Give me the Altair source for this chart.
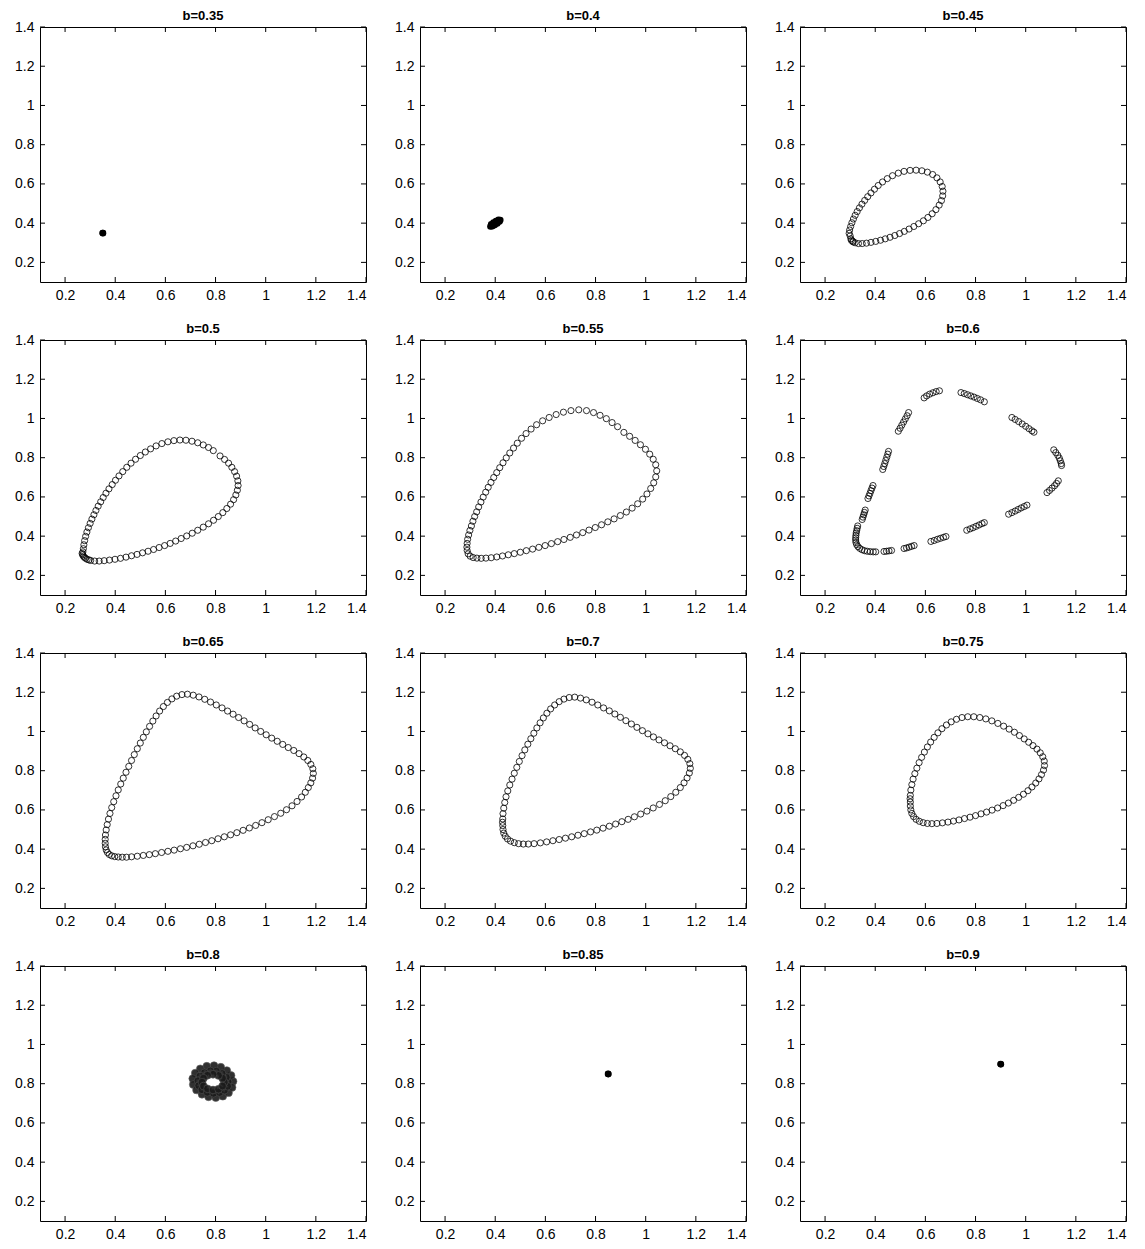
import altair as alt
import pandas as pd

FONT = "Liberation Sans"
TICKS = [0.2, 0.4, 0.6, 0.8, 1.0, 1.2, 1.4]
W, H = 326, 255

# ---- data (x, y) ----
B035_SOLID = [(0.350, 0.350), (0.351, 0.349)]

B040_SOLID = [(0.381, 0.383), (0.388, 0.384), (0.398, 0.390), (0.408, 0.398), (0.417, 0.408),
              (0.420, 0.416), (0.413, 0.417), (0.403, 0.411), (0.393, 0.403), (0.384, 0.394),
              (0.400, 0.400)]

B045_OPEN = [(0.300, 0.335), (0.303, 0.320), (0.310, 0.308), (0.320, 0.300), (0.333, 0.296),
             (0.348, 0.296), (0.365, 0.298), (0.383, 0.302), (0.402, 0.307), (0.421, 0.313),
             (0.440, 0.320), (0.459, 0.328), (0.478, 0.337), (0.497, 0.347), (0.516, 0.358),
             (0.535, 0.370), (0.554, 0.383), (0.573, 0.397), (0.592, 0.412), (0.610, 0.429),
             (0.627, 0.448), (0.642, 0.469), (0.655, 0.492), (0.664, 0.515), (0.669, 0.539),
             (0.670, 0.563), (0.667, 0.587), (0.659, 0.610), (0.646, 0.631), (0.629, 0.648),
             (0.608, 0.660), (0.586, 0.667), (0.563, 0.670), (0.539, 0.669), (0.515, 0.664),
             (0.492, 0.655), (0.469, 0.642), (0.448, 0.627), (0.429, 0.610), (0.412, 0.592),
             (0.397, 0.573), (0.383, 0.554), (0.370, 0.535), (0.358, 0.516), (0.347, 0.497),
             (0.337, 0.478), (0.328, 0.459), (0.320, 0.440), (0.313, 0.421), (0.307, 0.402),
             (0.302, 0.383), (0.298, 0.365), (0.296, 0.348), (0.305, 0.312), (0.312, 0.304)]

B050_OPEN = [(0.270, 0.305), (0.277, 0.292), (0.288, 0.282), (0.302, 0.276), (0.318, 0.273),
             (0.336, 0.273), (0.356, 0.275), (0.377, 0.278), (0.399, 0.282), (0.421, 0.287),
             (0.443, 0.293), (0.465, 0.300), (0.487, 0.307), (0.509, 0.315), (0.531, 0.323),
             (0.553, 0.332), (0.575, 0.342), (0.597, 0.352), (0.619, 0.363), (0.641, 0.375),
             (0.663, 0.388), (0.685, 0.401), (0.707, 0.415), (0.729, 0.430), (0.751, 0.446),
             (0.772, 0.463), (0.792, 0.481), (0.811, 0.500), (0.829, 0.520), (0.845, 0.541),
             (0.860, 0.563), (0.872, 0.586), (0.881, 0.610), (0.887, 0.634), (0.890, 0.658),
             (0.889, 0.682), (0.884, 0.706), (0.876, 0.729), (0.865, 0.751), (0.852, 0.772),
             (0.836, 0.791), (0.818, 0.809), (0.791, 0.836), (0.772, 0.852), (0.751, 0.865),
             (0.729, 0.876), (0.706, 0.884), (0.682, 0.889), (0.658, 0.890), (0.634, 0.887),
             (0.610, 0.881), (0.586, 0.872), (0.563, 0.860), (0.541, 0.845), (0.520, 0.829),
             (0.500, 0.811), (0.481, 0.792), (0.463, 0.772), (0.446, 0.751), (0.430, 0.729),
             (0.415, 0.707), (0.401, 0.685), (0.388, 0.663), (0.375, 0.641), (0.363, 0.619),
             (0.352, 0.597), (0.342, 0.575), (0.332, 0.553), (0.323, 0.531), (0.315, 0.509),
             (0.307, 0.487), (0.300, 0.465), (0.293, 0.443), (0.287, 0.421), (0.282, 0.399),
             (0.278, 0.377), (0.275, 0.356), (0.273, 0.336), (0.271, 0.320), (0.268, 0.312),
             (0.273, 0.298), (0.282, 0.287), (0.295, 0.279)]

B055_OPEN = [(0.292, 0.310), (0.300, 0.298), (0.312, 0.291), (0.327, 0.288), (0.344, 0.287),
             (0.363, 0.288), (0.384, 0.290), (0.406, 0.294), (0.429, 0.299), (0.452, 0.305),
             (0.476, 0.311), (0.500, 0.318), (0.524, 0.326), (0.549, 0.334), (0.574, 0.343),
             (0.599, 0.352), (0.624, 0.362), (0.649, 0.372), (0.674, 0.383), (0.699, 0.394),
             (0.724, 0.406), (0.749, 0.418), (0.774, 0.431), (0.799, 0.444), (0.824, 0.458),
             (0.849, 0.473), (0.874, 0.488), (0.899, 0.505), (0.923, 0.523), (0.946, 0.543),
             (0.968, 0.565), (0.988, 0.589), (1.005, 0.615), (1.020, 0.643), (1.032, 0.672),
             (1.040, 0.702), (1.044, 0.733), (1.040, 0.764), (1.030, 0.792), (1.016, 0.818),
             (0.999, 0.843), (0.979, 0.866), (0.958, 0.888), (0.936, 0.909), (0.913, 0.929),
             (0.888, 0.958), (0.866, 0.979), (0.843, 0.999), (0.818, 1.016), (0.792, 1.030),
             (0.764, 1.040), (0.733, 1.044), (0.702, 1.040), (0.672, 1.032), (0.643, 1.020),
             (0.615, 1.005), (0.589, 0.988), (0.565, 0.968), (0.543, 0.946), (0.523, 0.923),
             (0.505, 0.899), (0.488, 0.874), (0.473, 0.849), (0.458, 0.824), (0.444, 0.799),
             (0.431, 0.774), (0.418, 0.749), (0.406, 0.724), (0.394, 0.699), (0.383, 0.674),
             (0.372, 0.649), (0.362, 0.624), (0.352, 0.599), (0.343, 0.574), (0.334, 0.549),
             (0.326, 0.524), (0.318, 0.500), (0.311, 0.476), (0.305, 0.452), (0.299, 0.429),
             (0.294, 0.406), (0.290, 0.384), (0.288, 0.363), (0.287, 0.344), (0.288, 0.327)]

B060_OPEN = [
    # corner
    (0.330, 0.452), (0.328, 0.440), (0.326, 0.428), (0.324, 0.416), (0.323, 0.404), (0.322, 0.392),
    (0.322, 0.380), (0.323, 0.368), (0.326, 0.357), (0.331, 0.347), (0.338, 0.338), (0.347, 0.331),
    (0.357, 0.326), (0.368, 0.323), (0.380, 0.321), (0.392, 0.320), (0.402, 0.320),
    # lower dashes
    (0.435, 0.322), (0.445, 0.323), (0.455, 0.325), (0.465, 0.327),
    (0.515, 0.337), (0.525, 0.340), (0.535, 0.344), (0.545, 0.348), (0.555, 0.352),
    (0.622, 0.373), (0.635, 0.378), (0.648, 0.384), (0.660, 0.389), (0.672, 0.394), (0.682, 0.398),
    (0.765, 0.430), (0.778, 0.437), (0.790, 0.443), (0.802, 0.450), (0.814, 0.457), (0.826, 0.464),
    (0.835, 0.469),
    (0.932, 0.512), (0.945, 0.520), (0.958, 0.528), (0.970, 0.536), (0.982, 0.544), (0.994, 0.551),
    (1.005, 0.558),
    (1.085, 0.622), (1.095, 0.633), (1.105, 0.645), (1.115, 0.657), (1.123, 0.669), (1.130, 0.682),
    # right / upper dashes
    (1.112, 0.840), (1.120, 0.826), (1.128, 0.812), (1.134, 0.798), (1.138, 0.784), (1.142, 0.770),
    (1.143, 0.760),
    (0.945, 1.005), (0.958, 0.995), (0.972, 0.984), (0.986, 0.972), (1.000, 0.960), (1.013, 0.948),
    (1.025, 0.937), (1.033, 0.930),
    (0.742, 1.132), (0.755, 1.127), (0.768, 1.121), (0.781, 1.115), (0.794, 1.109), (0.807, 1.102),
    (0.820, 1.095), (0.835, 1.085),
    (0.595, 1.105), (0.605, 1.115), (0.617, 1.124), (0.630, 1.131), (0.643, 1.137), (0.656, 1.141),
    # left dashes
    (0.492, 0.935), (0.499, 0.950), (0.506, 0.966), (0.513, 0.982), (0.520, 0.998), (0.527, 1.014),
    (0.533, 1.030),
    (0.430, 0.740), (0.434, 0.755), (0.438, 0.770), (0.442, 0.786), (0.446, 0.802), (0.450, 0.818),
    (0.453, 0.832),
    (0.371, 0.592), (0.375, 0.605), (0.379, 0.618), (0.383, 0.632), (0.387, 0.645), (0.391, 0.658),
    (0.348, 0.485), (0.351, 0.497), (0.354, 0.509), (0.357, 0.521), (0.360, 0.533)]

B065_OPEN = [(0.360, 0.430), (0.361, 0.412), (0.364, 0.396), (0.369, 0.383), (0.376, 0.373),
             (0.386, 0.366), (0.398, 0.362), (0.412, 0.360), (0.428, 0.359), (0.445, 0.359),
             (0.465, 0.361), (0.488, 0.364), (0.512, 0.368), (0.536, 0.372), (0.560, 0.377),
             (0.585, 0.383), (0.610, 0.389), (0.635, 0.395), (0.660, 0.402), (0.685, 0.409),
             (0.710, 0.417), (0.735, 0.425), (0.760, 0.434), (0.785, 0.443), (0.810, 0.453),
             (0.835, 0.463), (0.860, 0.473), (0.885, 0.484), (0.910, 0.496), (0.935, 0.508),
             (0.960, 0.521), (0.985, 0.535), (1.010, 0.550), (1.035, 0.566), (1.060, 0.583),
             (1.083, 0.601), (1.105, 0.621), (1.125, 0.643), (1.143, 0.666), (1.158, 0.690),
             (1.170, 0.714), (1.180, 0.738), (1.187, 0.762), (1.190, 0.786), (1.188, 0.810),
             (1.180, 0.832), (1.168, 0.852), (1.152, 0.870), (1.133, 0.887), (1.112, 0.903),
             (1.090, 0.918), (1.068, 0.934), (1.046, 0.950), (1.024, 0.966), (1.002, 0.983),
             (0.980, 1.000), (0.958, 1.018), (0.936, 1.036), (0.914, 1.054), (0.892, 1.071),
             (0.870, 1.088), (0.848, 1.104), (0.826, 1.120), (0.803, 1.135), (0.780, 1.150),
             (0.757, 1.164), (0.734, 1.176), (0.711, 1.185), (0.688, 1.190), (0.666, 1.188),
             (0.645, 1.180), (0.626, 1.166), (0.608, 1.148), (0.592, 1.127), (0.577, 1.104),
             (0.563, 1.079), (0.550, 1.053), (0.537, 1.026), (0.524, 0.998), (0.512, 0.970),
             (0.500, 0.941), (0.488, 0.912), (0.476, 0.882), (0.465, 0.852), (0.454, 0.822),
             (0.443, 0.792), (0.432, 0.762), (0.422, 0.732), (0.412, 0.702), (0.403, 0.672),
             (0.394, 0.642), (0.386, 0.612), (0.379, 0.582), (0.373, 0.553), (0.368, 0.525),
             (0.364, 0.498), (0.361, 0.472), (0.360, 0.450)]

B070_OPEN = [(0.430, 0.520), (0.431, 0.500), (0.434, 0.482), (0.440, 0.466), (0.449, 0.452),
             (0.461, 0.441), (0.476, 0.433), (0.493, 0.428), (0.512, 0.426), (0.532, 0.426),
             (0.555, 0.428), (0.580, 0.432), (0.605, 0.437), (0.630, 0.443), (0.655, 0.449),
             (0.680, 0.456), (0.705, 0.463), (0.730, 0.471), (0.755, 0.479), (0.780, 0.488),
             (0.805, 0.497), (0.830, 0.507), (0.855, 0.517), (0.880, 0.528), (0.905, 0.540),
             (0.930, 0.552), (0.955, 0.565), (0.980, 0.579), (1.005, 0.594), (1.030, 0.610),
             (1.055, 0.628), (1.078, 0.647), (1.100, 0.668), (1.120, 0.690), (1.138, 0.714),
             (1.153, 0.738), (1.165, 0.763), (1.174, 0.788), (1.178, 0.812), (1.176, 0.836),
             (1.168, 0.858), (1.155, 0.878), (1.138, 0.896), (1.118, 0.912), (1.097, 0.927),
             (1.075, 0.942), (1.053, 0.957), (1.031, 0.972), (1.009, 0.988), (0.987, 1.004),
             (0.965, 1.021), (0.943, 1.038), (0.921, 1.055), (0.899, 1.072), (0.877, 1.089),
             (0.855, 1.105), (0.832, 1.120), (0.809, 1.135), (0.786, 1.149), (0.763, 1.161),
             (0.740, 1.170), (0.717, 1.175), (0.695, 1.173), (0.674, 1.165), (0.655, 1.152),
             (0.637, 1.135), (0.621, 1.115), (0.606, 1.093), (0.592, 1.069), (0.579, 1.044),
             (0.566, 1.018), (0.554, 0.991), (0.542, 0.963), (0.530, 0.935), (0.518, 0.906),
             (0.507, 0.877), (0.496, 0.847), (0.486, 0.817), (0.476, 0.787), (0.467, 0.757),
             (0.458, 0.727), (0.450, 0.697), (0.443, 0.667), (0.438, 0.638), (0.434, 0.609),
             (0.431, 0.581), (0.430, 0.554), (0.429, 0.537)]

B075_OPEN = [(0.540, 0.640), (0.540, 0.620), (0.542, 0.600), (0.546, 0.582), (0.553, 0.566),
             (0.563, 0.552), (0.576, 0.542), (0.591, 0.535), (0.608, 0.531), (0.626, 0.530),
             (0.646, 0.531), (0.668, 0.534), (0.690, 0.538), (0.712, 0.543), (0.734, 0.549),
             (0.756, 0.556), (0.778, 0.563), (0.800, 0.571), (0.822, 0.580), (0.844, 0.589),
             (0.866, 0.599), (0.888, 0.610), (0.910, 0.622), (0.931, 0.635), (0.952, 0.649),
             (0.972, 0.664), (0.991, 0.680), (1.009, 0.698), (1.025, 0.717), (1.040, 0.737),
             (1.053, 0.758), (1.063, 0.780), (1.071, 0.803), (1.075, 0.826), (1.074, 0.849),
             (1.068, 0.871), (1.058, 0.891), (1.045, 0.910), (1.029, 0.928), (1.012, 0.945),
             (0.994, 0.962), (0.975, 0.979), (0.955, 0.996), (0.934, 1.012), (0.912, 1.027),
             (0.889, 1.041), (0.865, 1.054), (0.841, 1.064), (0.817, 1.071), (0.793, 1.075),
             (0.769, 1.075), (0.746, 1.071), (0.724, 1.062), (0.703, 1.049), (0.684, 1.033),
             (0.666, 1.014), (0.650, 0.993), (0.635, 0.970), (0.621, 0.946), (0.608, 0.921),
             (0.596, 0.895), (0.585, 0.868), (0.575, 0.841), (0.566, 0.813), (0.558, 0.785),
             (0.551, 0.757), (0.546, 0.729), (0.542, 0.701), (0.540, 0.674), (0.539, 0.657)]

B080_FLOWER = [
    # outer petals
    (0.870, 0.812), (0.862, 0.842), (0.845, 0.867), (0.821, 0.884), (0.794, 0.892), (0.765, 0.889),
    (0.739, 0.876), (0.719, 0.854), (0.709, 0.826), (0.711, 0.796), (0.724, 0.768), (0.746, 0.746),
    (0.772, 0.733), (0.801, 0.729), (0.829, 0.736), (0.852, 0.754), (0.866, 0.781),
    # middle ring
    (0.850, 0.809), (0.843, 0.833), (0.826, 0.852), (0.803, 0.864), (0.779, 0.865), (0.756, 0.856),
    (0.738, 0.839), (0.730, 0.815), (0.733, 0.790), (0.746, 0.769), (0.767, 0.756), (0.792, 0.751),
    (0.816, 0.755), (0.836, 0.767), (0.848, 0.787),
    # inner ring
    (0.835, 0.808), (0.828, 0.828), (0.812, 0.842), (0.790, 0.848), (0.768, 0.843), (0.752, 0.828),
    (0.746, 0.808), (0.752, 0.788), (0.768, 0.774), (0.790, 0.768), (0.812, 0.772), (0.828, 0.788)]

B085_SOLID = [(0.850, 0.850), (0.851, 0.849)]
B090_SOLID = [(0.900, 0.900), (0.901, 0.899)]

PANELS = [
    ("b=0.35", [], B035_SOLID, []),
    ("b=0.4", [], B040_SOLID, []),
    ("b=0.45", B045_OPEN, [], []),
    ("b=0.5", B050_OPEN, [], []),
    ("b=0.55", B055_OPEN, [], []),
    ("b=0.6", B060_OPEN, [], []),
    ("b=0.65", B065_OPEN, [], []),
    ("b=0.7", B070_OPEN, [], []),
    ("b=0.75", B075_OPEN, [], []),
    ("b=0.8", [], [], B080_FLOWER),
    ("b=0.85", [], B085_SOLID, []),
    ("b=0.9", [], B090_SOLID, []),
]

SCALE = alt.Scale(domain=[0.1, 1.4], nice=False, zero=False)


def axis(ext):
    return alt.Axis(values=TICKS, format="~g", title=None, grid=False, ticks=False,
                    domain=False, labelFont=FONT, labelFontSize=14, labelColor="black",
                    labelPadding=6, minExtent=ext, maxExtent=ext)


XENC = alt.X("x:Q", scale=SCALE, axis=axis(20))
YENC = alt.Y("y:Q", scale=SCALE, axis=axis(27))


def panel(title, open_pts, solid_pts, flower_pts):
    rows = [{"x": a, "y": b, "kind": "open"} for a, b in open_pts]
    rows += [{"x": a, "y": b, "kind": "solid"} for a, b in solid_pts]
    rows += [{"x": a, "y": b, "kind": "flower"} for a, b in flower_pts]
    df = pd.DataFrame(rows)
    tick_df = pd.DataFrame({"x": TICKS, "y": TICKS})

    opened = alt.Chart(df).transform_filter(alt.datum.kind == "open").mark_point(
        shape="circle", filled=False, size=38, stroke="black", strokeWidth=0.8, opacity=1
    ).encode(x=XENC, y=YENC)
    solid = alt.Chart(df).transform_filter(alt.datum.kind == "solid").mark_point(
        shape="circle", filled=True, size=44, color="black", opacity=1
    ).encode(x=XENC, y=YENC)
    flower = alt.Chart(df).transform_filter(alt.datum.kind == "flower").mark_point(
        shape="circle", filled=True, size=60, fill="#1a1a1a", stroke="#555555",
        strokeWidth=0.6, opacity=0.9
    ).encode(x=XENC, y=YENC)

    tk = alt.Chart(tick_df)
    bottom = tk.mark_rule(color="black", strokeWidth=1).encode(x=XENC, y=alt.value(H), y2=alt.value(H - 5))
    top = tk.mark_rule(color="black", strokeWidth=1).encode(x=XENC, y=alt.value(0), y2=alt.value(5))
    left = tk.mark_rule(color="black", strokeWidth=1).encode(y=YENC, x=alt.value(0), x2=alt.value(5))
    right = tk.mark_rule(color="black", strokeWidth=1).encode(y=YENC, x=alt.value(W), x2=alt.value(W - 5))

    return alt.layer(opened, solid, flower, bottom, top, left, right).properties(
        width=W, height=H,
        title=alt.TitleParams(title, font=FONT, fontSize=13, fontWeight="bold", color="black",
                              anchor="middle", frame="group", baseline="bottom", offset=-16),
    )


charts = [panel(*p) for p in PANELS]
chart = alt.concat(*charts, columns=3, spacing={"row": 19, "column": 25}).properties(
    padding={"left": 4, "top": 1, "right": 5, "bottom": 5}
).configure_view(stroke="black", strokeWidth=1)

chart.save("out.html", embed_options={"renderer": "svg", "actions": False})
